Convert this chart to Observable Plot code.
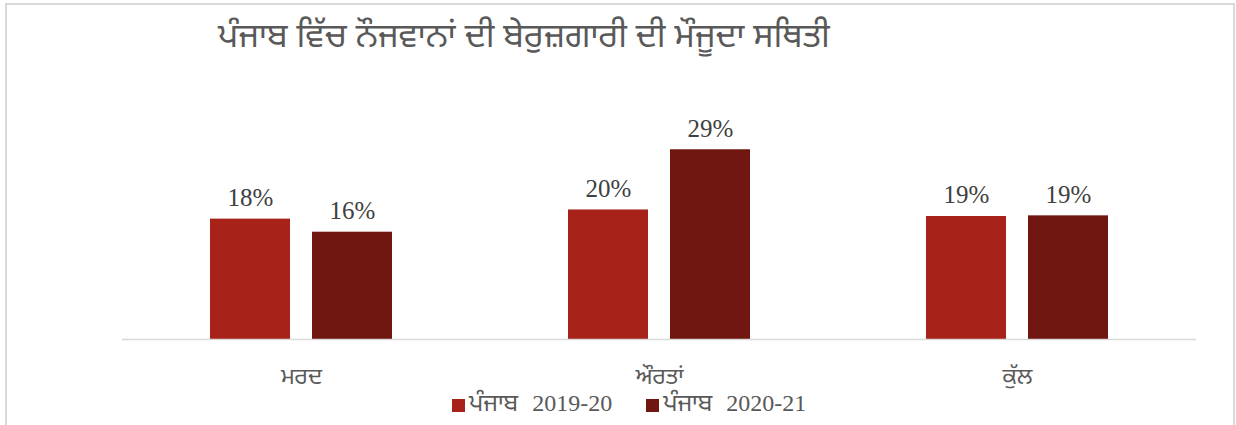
<!DOCTYPE html>
<html>
<head>
<meta charset="utf-8">
<script src="https://cdn.jsdelivr.net/npm/d3@7"></script>
<script src="https://cdn.jsdelivr.net/npm/@observablehq/plot@0.6"></script>
<style>
  body { margin: 0; background: #fff; }
  #wrap { position: relative; width: 1236px; height: 425px; overflow: hidden; background: #fff; }
  #border { position: absolute; left: 5px; top: 3px; width: 1226px; height: 460px; border: 2px solid #d9d9d9; }
  #title { position: absolute; left: 218px; top: 16px; font-family: "Noto Sans Gurmukhi", "Lohit Gurmukhi", "Raavi", "Noto Sans", sans-serif; font-size: 34px; line-height: 46px; color: #595959; white-space: nowrap; }
  #chart { position: absolute; left: 0; top: 70px; }
  #legend { position: absolute; left: 452px; top: 389px; height: 32px; font-family: "Liberation Serif", "Noto Sans Gurmukhi", "Lohit Gurmukhi", serif; font-size: 24px; word-spacing: 8px; color: #595959; white-space: nowrap; display: flex; align-items: center; }
  .sw { display: inline-block; width: 13px; height: 13px; margin-right: 4px; }
  .item { display: inline-flex; align-items: center; margin-right: 34px; }
</style>
</head>
<body>
<div id="wrap">
  <div id="border"></div>
  <div id="title"></div>
  <div id="chart"></div>
  <div id="legend"></div>
</div>
<script>
const titleText = "ਪੰਜਾਬ ਵਿੱਚ ਨੌਜਵਾਨਾਂ ਦੀ ਬੇਰੁਜ਼ਗਾਰੀ ਦੀ ਮੌਜੂਦਾ ਸਥਿਤੀ";
const categories = ["ਮਰਦ", "ਔਰਤਾਂ", "ਕੁੱਲ"];
const series = ["ਪੰਜਾਬ 2019-20", "ਪੰਜਾਬ 2020-21"];
const values2019 = [18.4, 19.8, 18.8];
const values2020 = [16.4, 29.0, 18.9];
const colors = ["#a7231a", "#701711"];

const data = [];
categories.forEach((c, i) => {
  data.push({category: c, series: series[0], value: values2019[i]});
  data.push({category: c, series: series[1], value: values2020[i]});
});

document.getElementById("title").textContent = titleText;

const gurmukhi = "'Noto Sans Gurmukhi', 'Lohit Gurmukhi', 'Raavi', 'Noto Sans', sans-serif";

const chart = Plot.plot({
  width: 1236,
  height: 345,
  marginLeft: 122,
  marginRight: 40,
  marginTop: 40,
  marginBottom: 76,
  style: {fontSize: "23px", fontFamily: gurmukhi, color: "#595959", background: "transparent", overflow: "visible"},
  fx: {domain: categories, padding: 0, label: null, axis: "bottom", tickSize: 0, tickPadding: 28},
  x: {domain: series, paddingInner: 0.2157, paddingOuter: 0.8627, axis: null},
  y: {domain: [0, 35], axis: null},
  color: {domain: series, range: colors},
  marks: [
    Plot.barY(data, {fx: "category", x: "series", y: "value", fill: "series"}),
    Plot.ruleY([0], {stroke: "#d9d9d9", strokeWidth: 1.5}),
    Plot.text(data, {
      fx: "category", x: "series", y: "value",
      text: d => Math.round(d.value) + "%",
      lineAnchor: "bottom", dy: -13,
      fontSize: 25, fontFamily: "'Liberation Serif', serif", fill: "#404040"
    })
  ]
});
document.getElementById("chart").appendChild(chart);

const legend = document.getElementById("legend");
series.forEach((s, i) => {
  const item = document.createElement("span");
  item.className = "item";
  const sw = document.createElement("span");
  sw.className = "sw";
  sw.style.background = colors[i];
  const t = document.createElement("span");
  t.textContent = s;
  item.appendChild(sw);
  item.appendChild(t);
  legend.appendChild(item);
});
</script>
</body>
</html>
